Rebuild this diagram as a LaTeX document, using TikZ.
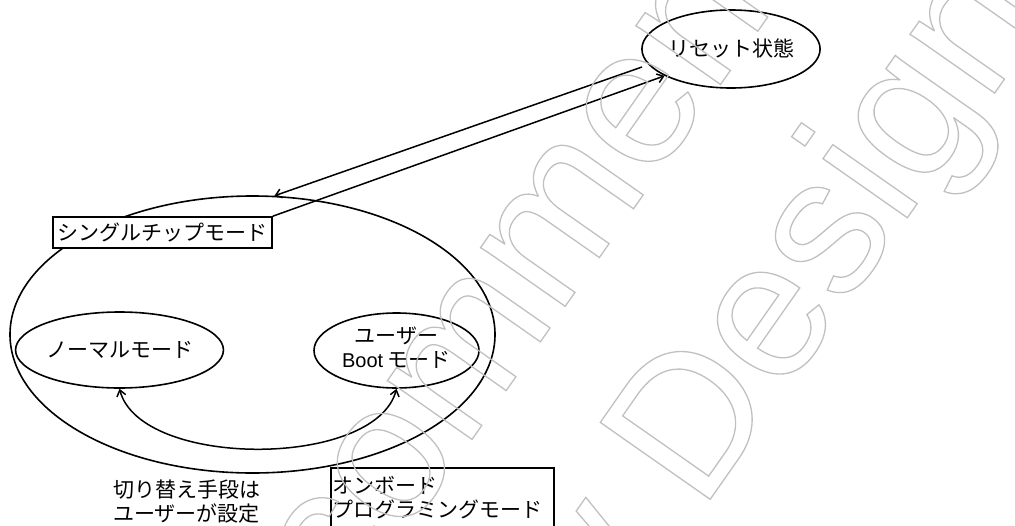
\documentclass[tikz,border=0pt]{standalone}
\usepackage{fontspec}
\setmainfont{Liberation Sans}
\newfontfamily\jp{Noto Sans CJK JP}
\usetikzlibrary{shapes.geometric,arrows.meta}
\definecolor{wmgray}{RGB}{192,192,192}
\newcommand\outlinedtext[1]{\special{pdf:literal direct 1 Tr}#1\special{pdf:literal direct 0 Tr}}
\tikzset{
  jptext/.style={font=\fontsize{21}{24}\selectfont\jp, inner sep=0pt},
  ell/.style={draw, ellipse, line width=1.6pt, inner sep=0pt, jptext},
  boxnode/.style={draw, rectangle, fill=white, line width=1.6pt, jptext},
  conn/.style={line width=1.5pt, -{Straight Barb[length=6pt,width=9pt]}},
  biconn/.style={line width=1.5pt, {Straight Barb[length=6pt,width=9pt]}-{Straight Barb[length=6pt,width=9pt]}},
  wmark/.style={rotate=55, anchor=base, font=\fontsize{195}{234}\selectfont, text=wmgray, inner sep=0pt}
}
\begin{document}
\begin{tikzpicture}[x=1pt, y=-1pt]
\useasboundingbox (0,0) rectangle (1015,525);
\clip (0,0) rectangle (1015,525);
% big ellipse (single chip mode)
\node[ell, minimum width=485pt, minimum height=277pt] (single) at (252.5,334.5) {};
\node[boxnode, minimum width=219pt, minimum height=31pt] (singlebox) at (162.5,232.5) {シングルチップモード};
% reset state
\node[ell, minimum width=164pt, minimum height=78pt] (reset) at (731,49) {\raisebox{3pt}{リセット状態}};
% inner modes
\node[ell, minimum width=165pt, minimum height=76pt] (normal) at (119.5,350) {ノーマルモード};
\node[ell, minimum width=165pt, minimum height=75pt, align=center] (userboot) at (396.5,350.5)
  {ユーザー\\{\rmfamily\fontsize{20}{24}\selectfont Boot} モード\rule[-6pt]{0pt}{1pt}};
% on-board programming box
\node[boxnode, anchor=north west, minimum width=223pt, minimum height=60pt, align=left, text width=219pt, inner xsep=2pt] (onboard) at (330,467) {オンボード\\プログラミングモード};
% caption
\node[jptext, align=center] (caption) at (186.5,501.5) {切り替え手段は\\ユーザーが設定};
% connectors
\coordinate (a1) at (642,67);
\draw[conn] (a1) -- (single.81.5);
\draw[conn] (singlebox.north east) -- (reset.202);
\draw[biconn] (normal.south) .. controls +(21,80) and +(-21,80) .. (userboot.south);
% watermark
\begin{scope}[line width=1.3pt]
\node[wmark] (wm1) at (480,428) {\outlinedtext{Not Recommended}};
\node[wmark] (wm2) at (667,561) {\outlinedtext{for New Design}};
\end{scope}
\end{tikzpicture}
\end{document}
